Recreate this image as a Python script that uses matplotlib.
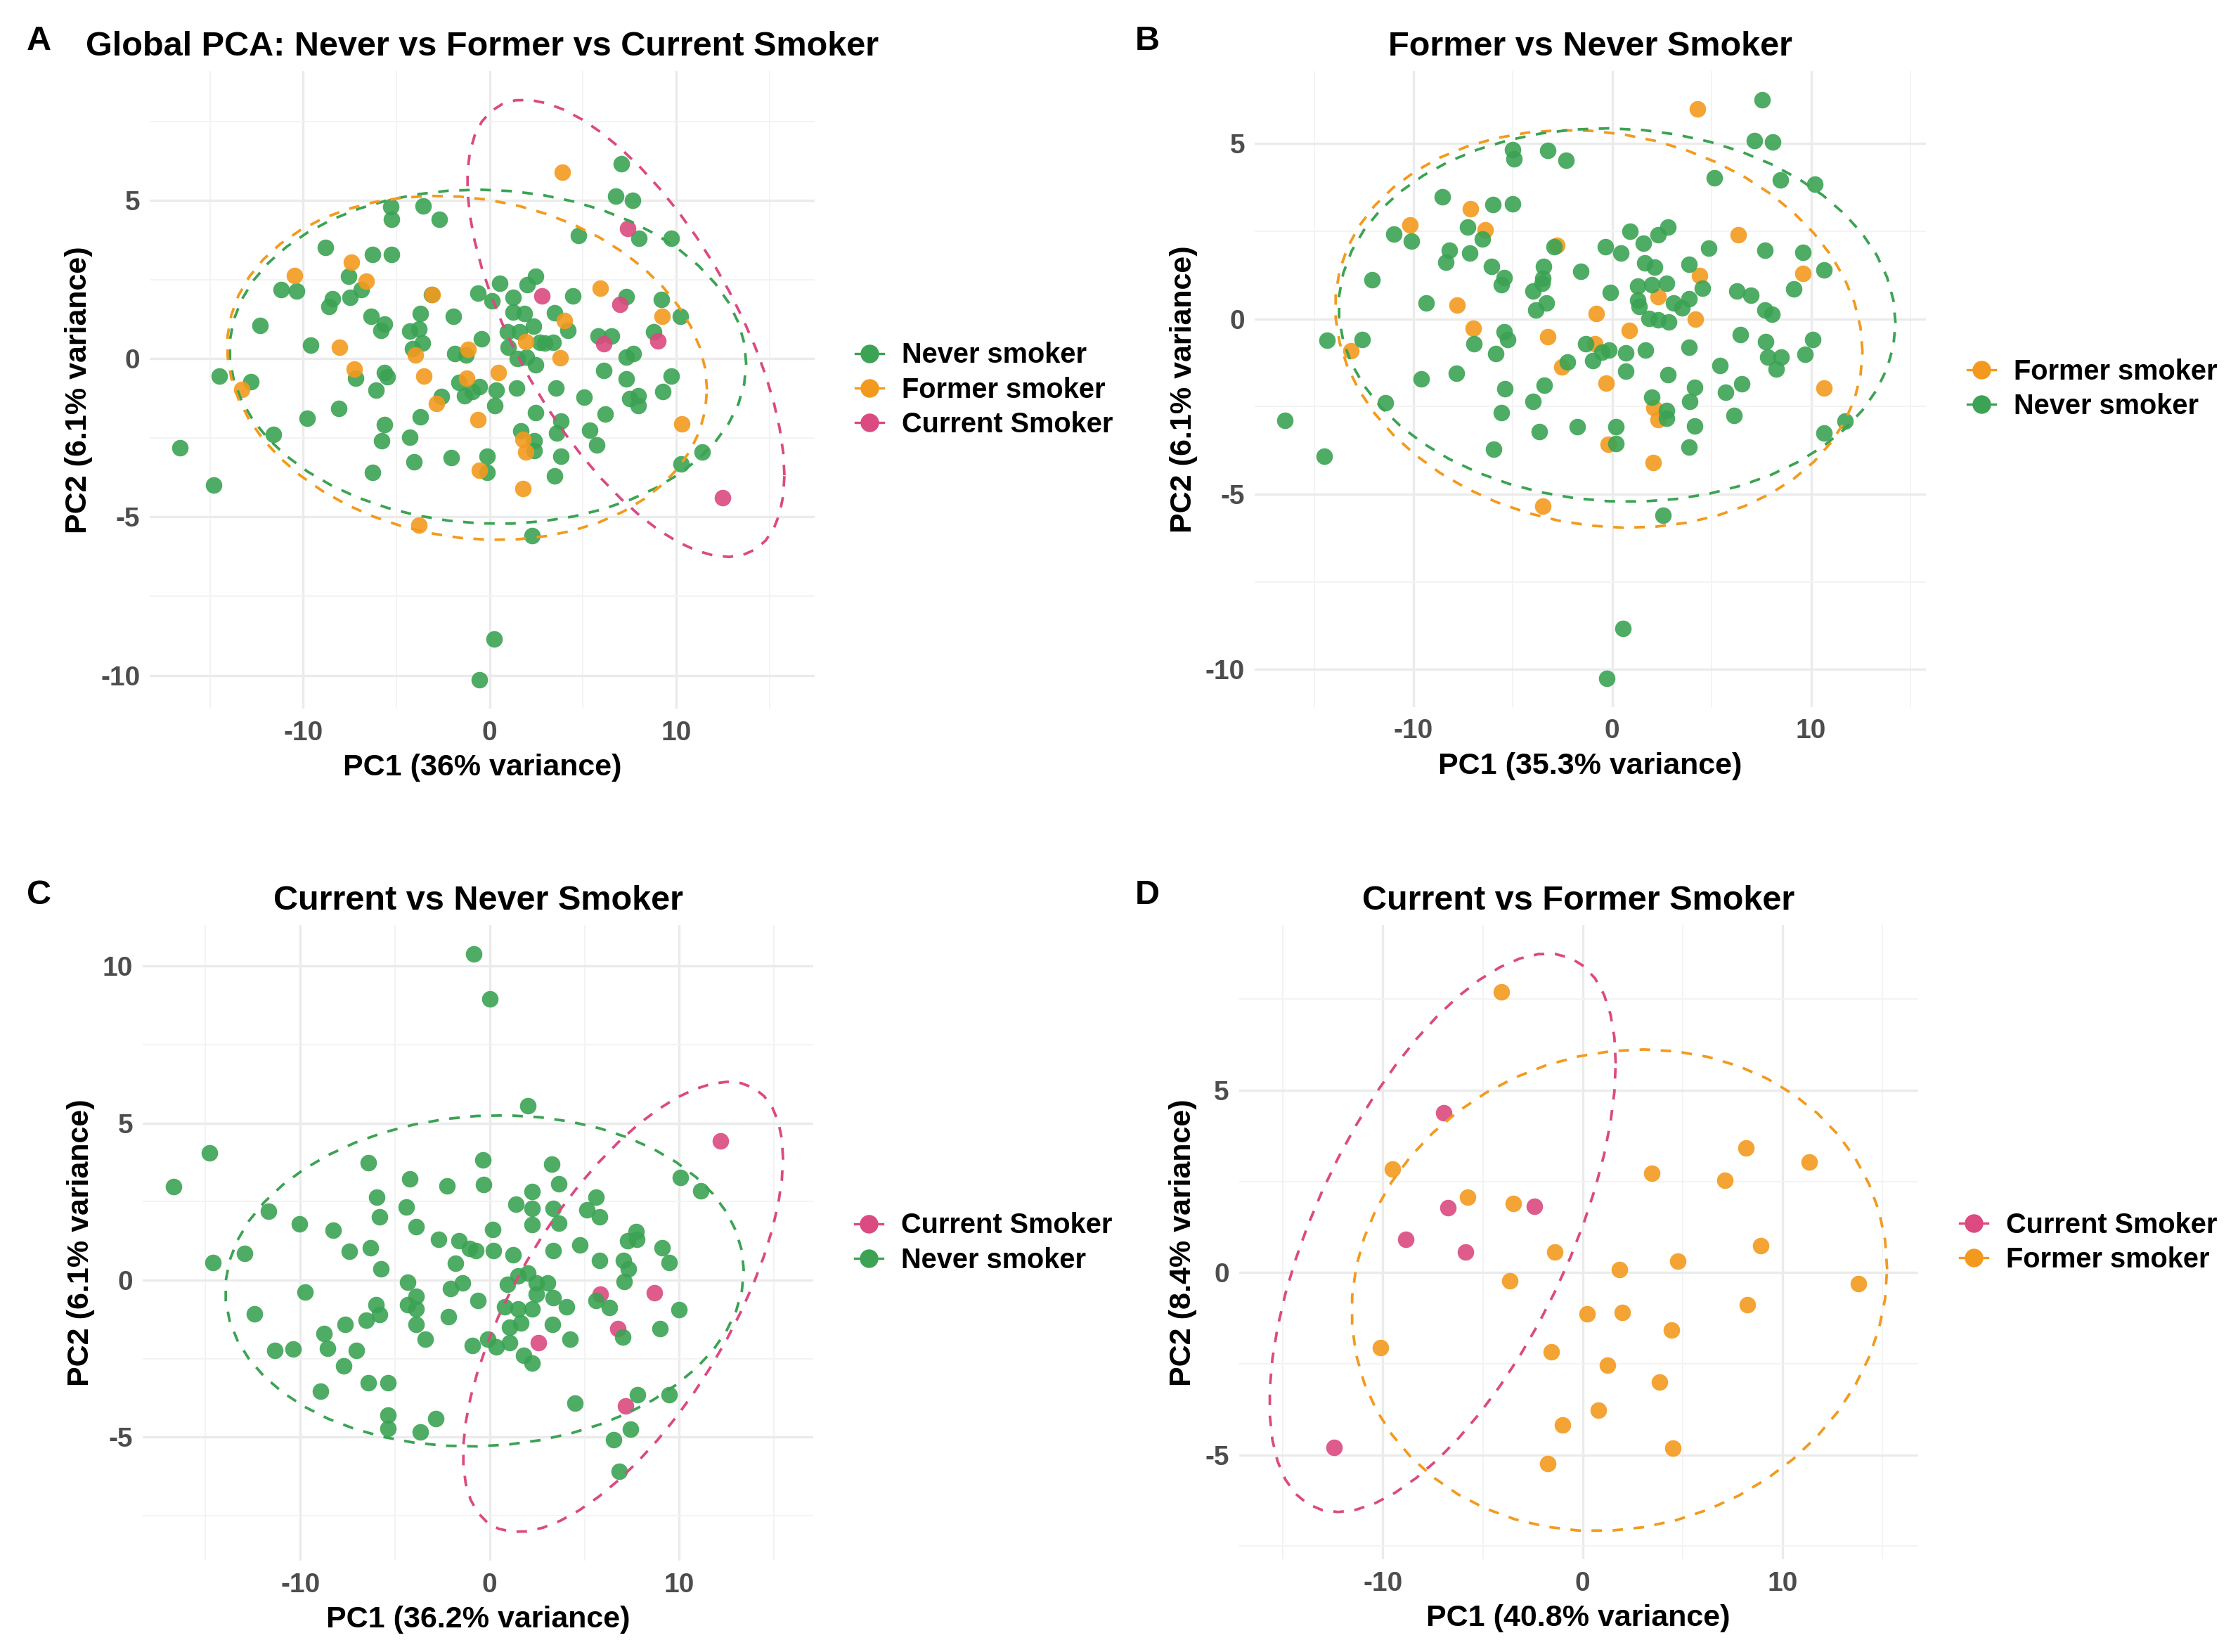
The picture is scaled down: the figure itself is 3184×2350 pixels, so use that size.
import numpy as np
import matplotlib.pyplot as plt
from matplotlib.lines import Line2D
from matplotlib.ticker import MultipleLocator

plt.rcParams['font.family'] = ['Liberation Sans', 'DejaVu Sans']
plt.rcParams['font.weight'] = 'bold'
plt.rcParams['axes.unicode_minus'] = False

GREEN = "#3ba353"
ORANGE = "#f39a1e"
PINK = "#db4a80"

# PCA scores, (PC1, PC2) per sample

# --- panel A: Never / Former / Current
a_never = [(7.08, 6.16), (6.75, 5.13), (7.66, 5.0), (4.75, 3.9), (8.0, 3.8), (9.73, 3.8),
           (-5.3, 4.8), (-5.25, 4.4), (-3.57, 4.82), (-2.7, 4.4), (-8.82, 3.52), (-6.29, 3.3),
           (-5.25, 3.3), (-7.57, 2.6), (-6.9, 2.19), (-7.47, 1.93), (-8.43, 1.9), (-8.63, 1.65),
           (-11.2, 2.19), (-10.36, 2.13), (-12.3, 1.06), (-9.6, 0.43), (-14.5, -0.55), (-12.8, -0.72),
           (-16.6, -2.81), (-14.8, -4.0), (-11.6, -2.38), (-9.8, -1.87), (-8.1, -1.57), (-6.36, 1.35),
           (-5.66, 1.1), (-5.83, 0.9), (-7.2, -0.62), (-5.66, -0.43), (-5.5, -0.58), (-6.1, -1.0),
           (-5.66, -2.09), (-5.8, -2.6), (-6.27, -3.6), (-4.3, -2.47), (-4.05, -3.25), (-3.7, -1.84),
           (-3.7, 1.42), (-4.3, 0.88), (-3.8, 0.93), (-4.14, 0.32), (-3.6, 0.49), (-3.13, 2.04),
           (-1.93, 1.34), (-1.88, 0.17), (-1.25, 0.13), (-0.43, 0.64), (-0.63, 2.07), (0.14, 1.84),
           (0.53, 2.38), (1.25, 1.93), (2.02, 2.35), (2.46, 2.6), (1.25, 1.48), (1.86, 1.42),
           (2.34, 1.03), (0.96, 0.86), (1.6, 0.86), (1.0, 0.36), (1.5, 0.0), (2.46, -0.19),
           (1.98, 0.06), (2.7, 0.52), (2.94, 0.49), (3.42, 0.52), (4.19, 0.9), (3.47, 1.46),
           (4.46, 1.98), (5.83, 0.71), (6.55, 0.71), (7.33, 1.96), (9.2, 1.87), (10.24, 1.35),
           (8.8, 0.86), (7.33, 0.06), (7.69, 0.17), (6.12, -0.36), (7.33, -0.64), (9.73, -0.55),
           (9.28, -1.03), (7.52, -1.25), (7.95, -1.16), (7.95, -1.48), (6.19, -1.75), (5.06, -1.22),
           (3.54, -0.93), (1.45, -0.93), (0.34, -1.0), (0.29, -1.48), (-0.55, -0.88), (-0.92, -1.03),
           (-1.35, -1.16), (-1.64, -0.75), (-2.6, -1.2), (-2.05, -3.12), (-0.14, -3.09), (-0.14, -3.58),
           (1.66, -2.29), (2.46, -1.71), (2.4, -2.58), (2.4, -2.9), (3.83, -1.96), (3.59, -2.35),
           (3.83, -3.09), (3.47, -3.69), (5.35, -2.26), (5.76, -2.73), (11.4, -2.94), (10.26, -3.32),
           (2.27, -5.58), (0.24, -8.85), (-0.55, -10.14)]
a_former = [(3.9, 5.89), (-7.42, 3.05), (-10.46, 2.64), (-6.63, 2.45), (-3.08, 2.02), (-8.07, 0.36),
            (-7.28, -0.32), (-13.3, -0.97), (-4.0, 0.13), (-3.54, -0.54), (-1.16, 0.3), (-1.23, -0.62),
            (0.48, -0.43), (-2.84, -1.42), (-0.63, -1.93), (-0.55, -3.52), (1.93, 0.54), (4.02, 1.2),
            (3.8, 0.03), (5.95, 2.22), (9.25, 1.35), (10.3, -2.06), (1.78, -2.55), (1.93, -2.94),
            (1.78, -4.1), (-3.8, -5.26)]
a_current = [(7.4, 4.12), (2.82, 1.98), (6.99, 1.71), (6.12, 0.48), (9.04, 0.57), (12.5, -4.38)]

# --- panel B: Former / Never
b_former = [(4.3, 5.99), (-7.13, 3.15), (-10.16, 2.69), (-6.39, 2.54), (-2.78, 2.11), (-7.8, 0.39),
            (-6.99, -0.27), (-13.14, -0.9), (-3.25, -0.5), (-2.54, -1.37), (-0.89, -0.7), (-0.82, 0.16),
            (-0.31, -1.83), (-0.2, -3.57), (0.85, -0.32), (2.29, 0.63), (4.41, 1.24), (4.19, -0.01),
            (6.35, 2.4), (9.6, 1.3), (10.65, -1.98), (2.09, -2.53), (2.32, -2.87), (2.07, -4.09),
            (-3.5, -5.34)]
b_never = [(7.53, 6.25), (7.15, 5.09), (8.08, 5.04), (5.12, 4.02), (8.46, 3.96), (10.2, 3.85),
           (-5.01, 4.83), (-4.94, 4.57), (-3.25, 4.81), (-2.34, 4.52), (-8.55, 3.48), (-5.99, 3.27),
           (-5.01, 3.29), (-7.28, 2.63), (-6.55, 2.28), (-10.98, 2.43), (-10.1, 2.22), (-8.2, 1.96),
           (-8.37, 1.62), (-7.17, 1.88), (-6.06, 1.49), (-5.43, 1.18), (-5.57, 0.98), (-12.1, 1.12),
           (-9.35, 0.45), (-14.34, -0.61), (-12.6, -0.58), (-16.46, -2.9), (-14.5, -3.92), (-11.4, -2.39),
           (-9.62, -1.71), (-7.86, -1.56), (-6.95, -0.7), (-5.43, -0.36), (-5.26, -0.59), (-5.88, -0.98),
           (-5.39, -2.0), (-5.57, -2.67), (-5.97, -3.71), (-3.99, -2.35), (-3.67, -3.22), (-3.41, -1.89),
           (-3.45, 1.49), (-3.5, 1.16), (-3.54, 1.01), (-3.99, 0.8), (-3.3, 0.45), (-3.83, 0.25),
           (-2.94, 2.07), (-1.6, 1.36), (-0.36, 2.07), (0.45, 1.88), (0.91, 2.51), (1.56, 2.16),
           (2.29, 2.4), (2.81, 2.63), (1.63, 1.59), (2.14, 1.47), (3.85, 1.56), (4.86, 2.02),
           (-0.09, 0.75), (1.29, 0.93), (2.0, 0.97), (2.74, 1.01), (1.29, 0.54), (1.34, 0.35),
           (1.85, 0.02), (2.29, -0.03), (2.85, -0.09), (3.07, 0.46), (3.52, 0.31), (3.85, 0.57),
           (4.52, 0.87), (6.26, 0.8), (6.97, 0.68), (9.15, 0.86), (9.6, 1.9), (7.68, 1.96),
           (10.65, 1.39), (7.68, 0.25), (8.02, 0.14), (6.46, -0.44), (7.71, -0.64), (10.1, -0.58),
           (9.69, -1.0), (7.82, -1.08), (8.49, -1.08), (8.26, -1.43), (5.41, -1.33), (6.53, -1.85),
           (5.7, -2.1), (4.14, -1.95), (3.85, -0.81), (2.81, -1.6), (1.67, -0.88), (0.67, -0.96),
           (0.67, -1.48), (-0.16, -0.88), (-0.53, -0.94), (-0.98, -1.19), (-1.34, -0.7), (-2.27, -1.23),
           (2.0, -2.24), (2.74, -2.62), (2.74, -2.84), (3.9, -2.35), (4.14, -3.05), (3.85, -3.66),
           (6.12, -2.76), (10.65, -3.26), (11.71, -2.91), (0.18, -3.08), (0.18, -3.55), (-1.76, -3.08),
           (2.54, -5.6), (0.53, -8.84), (-0.27, -10.25)]

# --- panel C: Current / Never
c_current = [(12.17, 4.42), (8.7, -0.41), (5.83, -0.45), (6.77, -1.55), (2.57, -2.0), (7.17, -4.01)]
c_never = [(-0.85, 10.38), (0.0, 8.96), (2.03, 5.55), (-14.8, 4.05), (-16.7, 2.98), (-6.39, 3.73),
           (-0.38, 3.82), (3.28, 3.69), (-4.22, 3.22), (-2.26, 3.0), (-0.31, 3.04), (3.63, 3.07),
           (2.22, 2.82), (10.07, 3.27), (11.13, 2.85), (-5.97, 2.65), (-4.39, 2.33), (-5.8, 2.01),
           (1.39, 2.42), (2.22, 2.29), (3.35, 2.29), (3.63, 1.81), (2.22, 1.77), (5.61, 2.65),
           (5.12, 2.23), (5.8, 2.01), (-11.67, 2.2), (-10.05, 1.79), (-8.25, 1.59), (-3.87, 1.71),
           (0.14, 1.62), (-12.95, 0.84), (-14.6, 0.56), (-7.4, 0.91), (-6.3, 1.03), (-2.69, 1.29),
           (-1.63, 1.25), (-1.08, 1.0), (-0.73, 0.94), (0.21, 0.94), (1.23, 0.8), (-1.79, 0.54),
           (-5.75, 0.35), (4.76, 1.13), (3.35, 0.94), (5.8, 0.62), (7.05, 0.62), (7.3, 0.36),
           (7.74, 1.55), (7.29, 1.25), (7.76, 1.29), (9.1, 1.03), (9.46, 0.56), (7.08, -0.04),
           (-9.74, -0.39), (-12.4, -1.07), (-4.32, -0.06), (-3.87, -0.52), (-4.32, -0.78), (-3.87, -0.91),
           (-2.08, -0.26), (-1.44, -0.09), (-0.61, -0.65), (-5.99, -0.78), (-5.8, -1.1), (-6.51, -1.27),
           (-7.62, -1.42), (-8.73, -1.71), (-8.56, -2.16), (-7.05, -2.23), (-10.38, -2.2), (-11.34, -2.24),
           (-7.69, -2.73), (-8.94, -3.53), (-6.39, -3.26), (-5.38, -3.26), (-5.38, -4.29), (-5.38, -4.72),
           (-3.68, -4.83), (-2.83, -4.4), (-3.87, -1.4), (-3.4, -1.88), (-2.19, -1.16), (-0.92, -2.08),
           (-0.09, -1.88), (0.33, -2.13), (1.04, -1.98), (1.79, -2.39), (2.22, -2.65), (1.04, -1.49),
           (1.63, -1.36), (0.8, -0.84), (1.51, -0.91), (2.22, -0.91), (0.92, -0.13), (1.51, 0.13),
           (2.03, 0.22), (2.45, -0.1), (2.45, -0.45), (3.04, -0.09), (3.35, -0.56), (4.06, -0.84),
           (3.3, -1.4), (4.22, -1.88), (5.61, -0.65), (6.3, -0.87), (7.03, -1.81), (8.99, -1.55),
           (10.0, -0.93), (4.5, -3.91), (7.81, -3.65), (9.48, -3.64), (7.41, -4.75), (6.53, -5.07),
           (6.84, -6.09)]

# --- panel D: Current / Former
d_current = [(-6.95, 4.39), (-6.73, 1.78), (-2.4, 1.81), (-8.86, 0.91), (-5.85, 0.56), (-12.44, -4.8)]
d_former = [(-4.08, 7.7), (-9.51, 2.84), (-5.76, 2.06), (-3.48, 1.89), (-1.41, 0.56), (-3.63, -0.22),
            (-10.13, -2.06), (-1.57, -2.18), (0.22, -1.13), (1.97, -1.09), (1.84, 0.08), (4.75, 0.31),
            (4.44, -1.58), (1.26, -2.53), (3.83, -3.0), (0.78, -3.78), (-1.01, -4.17), (-1.73, -5.24),
            (4.53, -4.81), (3.45, 2.73), (7.13, 2.53), (8.16, 3.42), (11.35, 3.03), (8.92, 0.74),
            (13.81, -0.3), (8.23, -0.89)]

LABELS = {"never": "Never smoker", "former": "Former smoker", "current": "Current Smoker"}
COLORS = {"never": GREEN, "former": ORANGE, "current": PINK}


def cov_trob(x, nu=5, maxit=25, tol=0.01):
    """robust t covariance, same as MASS::cov.trob"""
    n, p = x.shape
    wt = np.ones(n)
    loc = x.mean(axis=0)
    w = np.sqrt(wt)
    X = x - loc
    for _ in range(maxit):
        w0 = w
        X = x - loc
        _, d, vt = np.linalg.svd(np.sqrt(w / w.sum())[:, None] * X, full_matrices=False)
        wX = X @ vt.T @ np.diag(1 / d)
        Q = (wX ** 2).sum(axis=1)
        w = (wt * (nu + p)) / (nu + Q)
        loc = (w[:, None] * x).sum(axis=0) / w.sum()
        if np.all(np.abs(w - w0) < tol):
            break
    sX = np.sqrt(w)[:, None] * X
    return loc, sX.T @ sX / wt.sum()


def ellipse_path(pts, level=0.95, segments=51):
    """stat_ellipse(type = 't')"""
    pts = np.asarray(pts)
    center, shape = cov_trob(pts)
    dfd = len(pts) - 1
    qf = dfd / 2 * ((1 - level) ** (-2 / dfd) - 1)  # F quantile for dfn = 2
    radius = np.sqrt(2 * qf)
    ang = np.linspace(0, 2 * np.pi, segments + 1)
    circle = np.column_stack([np.cos(ang), np.sin(ang)])
    chol = np.linalg.cholesky(shape).T
    return center + radius * (circle @ chol)


def pca_panel(rect, groups, title, xlab, ylab):
    ax = fig.add_axes(rect)
    everything = []
    for key, pts in groups:
        pts = np.asarray(pts)
        ax.scatter(pts[:, 0], pts[:, 1], s=72, color=COLORS[key], alpha=0.9,
                   linewidths=0, zorder=3)
        everything.append(pts)
    for key, pts in groups:
        ell = ellipse_path(pts)
        ax.plot(ell[:, 0], ell[:, 1], color=COLORS[key], lw=1.35,
                dashes=(4, 4), zorder=4)
        everything.append(ell)
    allpts = np.vstack(everything)
    lo, hi = allpts.min(axis=0), allpts.max(axis=0)
    pad = (hi - lo) * 0.05
    ax.set_xlim(lo[0] - pad[0], hi[0] + pad[0])
    ax.set_ylim(lo[1] - pad[1], hi[1] + pad[1])

    ax.xaxis.set_major_locator(MultipleLocator(10))
    ax.xaxis.set_minor_locator(MultipleLocator(5))
    ax.yaxis.set_major_locator(MultipleLocator(5))
    ax.yaxis.set_minor_locator(MultipleLocator(2.5))
    ax.grid(which="major", color="#ebebeb", lw=1.2)
    ax.grid(which="minor", color="#f3f3f3", lw=0.7)
    ax.set_axisbelow(True)
    for s in ax.spines.values():
        s.set_visible(False)
    ax.tick_params(which="both", length=0, labelsize=14, labelcolor="#4d4d4d", pad=5)
    ax.tick_params(axis="x", pad=6)

    ax.set_title(title, fontsize=17.5, fontweight="bold", pad=8)
    ax.set_xlabel(xlab, fontsize=15.5, fontweight="bold", labelpad=4)
    ax.set_ylabel(ylab, fontsize=15.5, fontweight="bold", labelpad=4)

    handles = [Line2D([0], [0], color=COLORS[k], marker="o", markersize=8.5, lw=1.2)
               for k, _ in groups]
    ax.legend(handles, [LABELS[k] for k, _ in groups], loc="center left",
              bbox_to_anchor=(1.045, 0.5), frameon=False, fontsize=14.3,
              handlelength=1.0, handletextpad=0.65, labelspacing=0.28, borderaxespad=0)
    return ax


fig = plt.figure(figsize=(15.92, 11.75), dpi=200)

pca_panel([0.067, 0.571, 0.297, 0.386], [("never", a_never), ("former", a_former), ("current", a_current)],
          "Global PCA: Never vs Former vs Current Smoker", "PC1 (36% variance)", "PC2 (6.1% variance)")
pca_panel([0.5606, 0.572, 0.300, 0.385], [("former", b_former), ("never", b_never)],
          "Former vs Never Smoker", "PC1 (35.3% variance)", "PC2 (6.1% variance)")
pca_panel([0.0638, 0.0553, 0.2997, 0.3847], [("current", c_current), ("never", c_never)],
          "Current vs Never Smoker", "PC1 (36.2% variance)", "PC2 (6.1% variance)")
pca_panel([0.5536, 0.056, 0.3034, 0.384], [("current", d_current), ("former", d_former)],
          "Current vs Former Smoker", "PC1 (40.8% variance)", "PC2 (8.4% variance)")

for letter, x, y in [("A", 0.012, 0.975), ("B", 0.507, 0.975), ("C", 0.012, 0.458), ("D", 0.507, 0.458)]:
    fig.text(x, y, letter, fontsize=17.5, fontweight="bold", va="center", ha="left")

fig.savefig("out.png", dpi=200, facecolor="white")
